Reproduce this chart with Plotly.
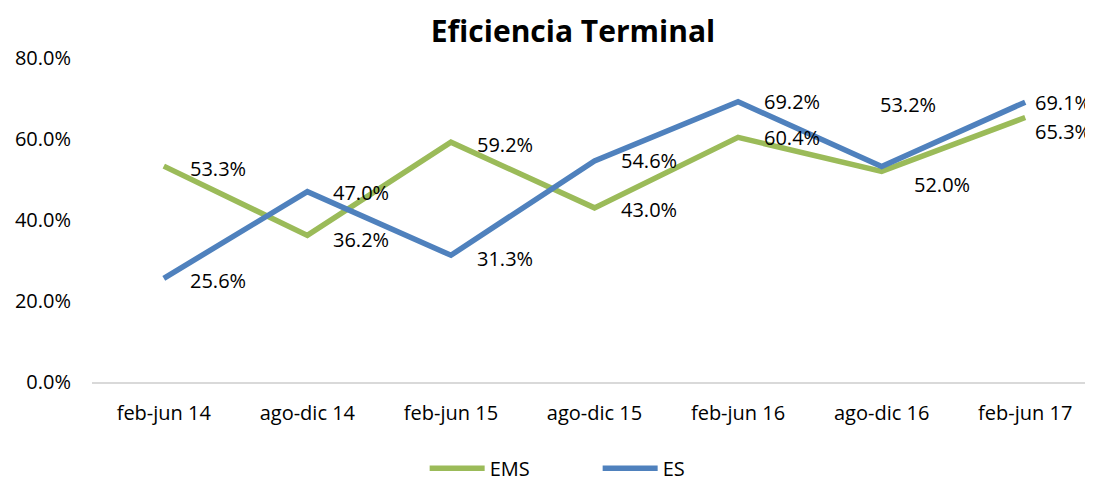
import plotly.graph_objects as go

# Periods and terminal efficiency per programme
periods = ["feb-jun 14", "ago-dic 14", "feb-jun 15", "ago-dic 15",
           "feb-jun 16", "ago-dic 16", "feb-jun 17"]
ems = [0.533, 0.362, 0.592, 0.430, 0.604, 0.520, 0.653]
es = [0.256, 0.470, 0.313, 0.546, 0.692, 0.532, 0.691]

GREEN = "#9BBB59"
BLUE = "#4F81BD"
FONT = "Open Sans"
FS = 20

# label nudges in px (x, y) to mimic the hand-placed Excel labels
ems_shift = [(24, -2), (24, -4), (24, -2), (24, -2), (24, 0), (30, -13), (8, -14)]
es_shift = [(24, -2), (24, -1), (24, -3), (24, 0), (24, 0), (-4, 62), (8, 0)]

fig = go.Figure()
fig.add_trace(go.Scatter(x=periods, y=ems, mode="lines", name="EMS",
                         line=dict(color=GREEN, width=5.5)))
fig.add_trace(go.Scatter(x=periods, y=es, mode="lines", name="ES",
                         line=dict(color=BLUE, width=5.5)))

for vals, shifts in ((ems, ems_shift), (es, es_shift)):
    for p, v, (dx, dy) in zip(periods, vals, shifts):
        fig.add_annotation(x=p, y=v, text=f"{v*100:.1f}%", showarrow=False,
                           xanchor="left", yanchor="middle", xshift=dx, yshift=dy,
                           font=dict(family=FONT, size=FS, color="#000000"))

# the page adds an 8px body margin, so margins are set 8px smaller
fig.update_layout(
    width=1093, height=482,
    paper_bgcolor="white", plot_bgcolor="white",
    margin=dict(l=84, r=4, t=50, b=108, autoexpand=False),
    font=dict(family=FONT, size=FS, color="#000000"),
    title=dict(text="<b>Eficiencia Terminal</b>", x=0.4786, xref="paper",
               xanchor="center", y=0.952, yanchor="middle",
               font=dict(family=FONT, size=30, color="#000000")),
    legend=dict(orientation="h", x=0.331, xanchor="left",
                yref="container", y=0.045, yanchor="middle",
                itemwidth=55, entrywidth=103,
                font=dict(family=FONT, size=FS)),
    showlegend=True,
)
fig.update_xaxes(range=[-0.5, 6.5], showgrid=False, showline=True,
                 linecolor="#D9D9D9", linewidth=2, ticks="", automargin=False,
                 ticklabelstandoff=12, tickfont=dict(size=FS))
fig.update_yaxes(range=[0, 0.8], dtick=0.2, tickformat=".1%", showgrid=False,
                 zeroline=False, showline=False, ticks="", automargin=False,
                 ticklabelstandoff=20, tickfont=dict(size=FS))

fig.write_html("out.html")
